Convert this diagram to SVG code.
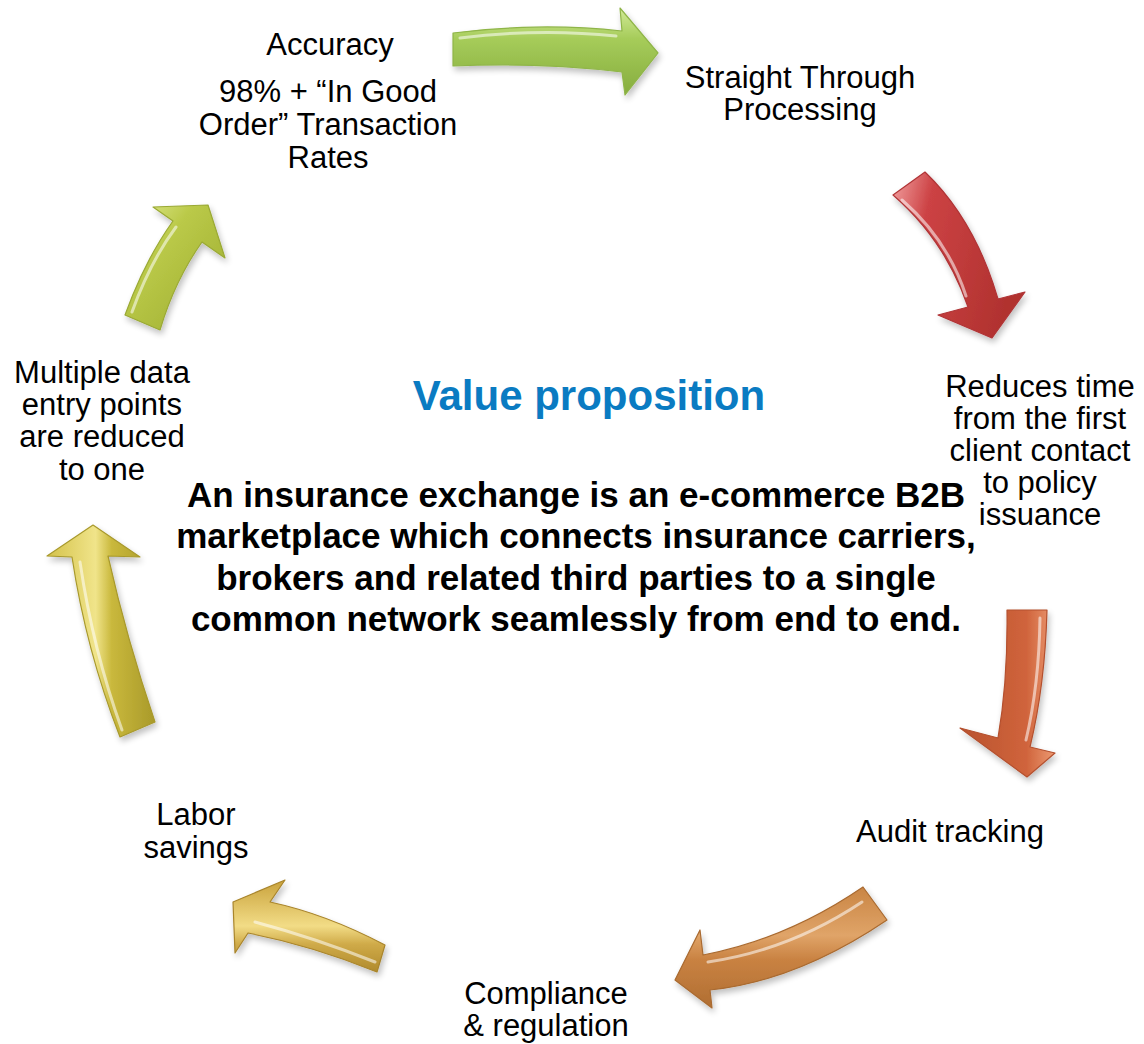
<svg xmlns="http://www.w3.org/2000/svg" width="1144" height="1044" viewBox="0 0 1144 1044">
<style>
.lbl{font-family:"Liberation Sans",Arial,sans-serif;font-size:31px;fill:#000;text-anchor:middle}
.title{font-family:"Liberation Sans",Arial,sans-serif;font-size:42px;font-weight:bold;fill:#0a7bc2;text-anchor:middle}
.body{font-family:"Liberation Sans",Arial,sans-serif;font-size:35px;font-weight:bold;fill:#000;text-anchor:middle}
.arrow{filter:url(#sh);stroke-width:1.2;stroke-linejoin:round}
.hl{fill:none;stroke:#fff;stroke-opacity:0.55;stroke-width:3;stroke-linecap:round}
</style>
<defs>
<filter id="sh" x="-20%" y="-20%" width="140%" height="140%">
<feGaussianBlur in="SourceAlpha" stdDeviation="3"/>
<feOffset dx="2" dy="4" result="b"/>
<feComponentTransfer><feFuncA type="linear" slope="0.25"/></feComponentTransfer>
<feMerge><feMergeNode/><feMergeNode in="SourceGraphic"/></feMerge>
</filter>
<linearGradient id="g1" x1="0" y1="0" x2="0" y2="1"><stop offset="0" stop-color="#d2ea98"/><stop offset="0.35" stop-color="#a6cc5a"/><stop offset="1" stop-color="#86ad3e"/></linearGradient>
<linearGradient id="g2" x1="0" y1="0" x2="1" y2="0.3"><stop offset="0" stop-color="#f2a0a0"/><stop offset="0.3" stop-color="#cc4244"/><stop offset="1" stop-color="#b1322f"/></linearGradient>
<linearGradient id="g3" x1="1" y1="0" x2="0" y2="0"><stop offset="0" stop-color="#ec9a72"/><stop offset="0.3" stop-color="#d0643c"/><stop offset="1" stop-color="#b9522e"/></linearGradient>
<linearGradient id="g4" x1="0" y1="0" x2="0" y2="1"><stop offset="0" stop-color="#c98544"/><stop offset="0.4" stop-color="#e0a468"/><stop offset="0.6" stop-color="#c98242"/><stop offset="1" stop-color="#b06e32"/></linearGradient>
<linearGradient id="g5" x1="0" y1="0" x2="0" y2="1"><stop offset="0" stop-color="#c9a23c"/><stop offset="0.5" stop-color="#f2dc86"/><stop offset="0.7" stop-color="#cfaa48"/><stop offset="1" stop-color="#b08a2c"/></linearGradient>
<linearGradient id="g6" x1="0" y1="0" x2="1" y2="0"><stop offset="0" stop-color="#d4c24a"/><stop offset="0.45" stop-color="#f0e48a"/><stop offset="0.6" stop-color="#c9b83c"/><stop offset="1" stop-color="#a99a2a"/></linearGradient>
<linearGradient id="g7" x1="0" y1="0" x2="1" y2="1"><stop offset="0" stop-color="#e2ec94"/><stop offset="0.35" stop-color="#bac948"/><stop offset="1" stop-color="#9cab30"/></linearGradient>
</defs>

<g id="connectors">
<g id="arrow1"><path class="arrow" fill="url(#g1)" stroke="#8fb548" d="M453,33 Q540,22 622,31 L620,8 L658,53 L625,95 L622,72 Q540,62 453,66 Z"/><path class="hl" d="M460,38 Q540,28 616,36"/></g>
<g id="arrow2"><path class="arrow" fill="url(#g2)" stroke="#b03436" d="M925,172 Q975,220 998,299 L1025,292 L992,338 L938,315 L968,307 Q945,240 893,195 Z"/><path class="hl" d="M902,200 Q948,240 966,296"/></g>
<g id="arrow3"><path class="arrow" fill="url(#g3)" stroke="#b4502e" d="M1007,610 L1047,610 Q1045,685 1030,747 L1055,753 L1027,777 L960,728 L998,738 Q1008,680 1007,610 Z"/><path class="hl" d="M1040,618 Q1039,685 1026,740"/></g>
<g id="arrow4"><path class="arrow" fill="url(#g4)" stroke="#a96a30" d="M863,887 L887,920 Q797,981 710,990 L712,1008 L675,980 L700,930 L703,955 Q787,939 863,887 Z"/><path class="hl" d="M708,962 Q790,950 862,902"/></g>
<g id="arrow5"><path class="arrow" fill="url(#g5)" stroke="#a9852c" d="M233,902 L285,880 L270,902 Q326,914 385,945 L377,972 Q313,946 248,933 L235,953 Z"/><path class="hl" d="M255,922 Q315,938 375,962"/></g>
<g id="arrow6"><path class="arrow" fill="url(#g6)" stroke="#a8992c" d="M93,525 L140,557 L108,556 Q127,640 155,722 L120,737 Q86,650 72,557 L47,556 Z"/><path class="hl" d="M80,562 Q93,650 122,730"/></g>
<g id="arrow7"><path class="arrow" fill="url(#g7)" stroke="#9aa934" d="M208,205 L225,258 L202,242 Q175,280 160,330 L125,315 Q145,260 173,221 L153,207 Z"/><path class="hl" d="M132,312 Q150,262 176,227"/></g>
</g>

<g id="accuracy"><text class="lbl" x="330" y="55">Accuracy</text>
<text class="lbl" x="328" y="102">98% + “In Good</text>
<text class="lbl" x="328" y="135">Order” Transaction</text>
<text class="lbl" x="328" y="168">Rates</text></g>
<g id="stp"><text class="lbl" x="800" y="88">Straight Through</text>
<text class="lbl" x="800" y="120">Processing</text></g>
<g id="reduces"><text class="lbl" x="1040" y="397">Reduces time</text>
<text class="lbl" x="1040" y="429">from the first</text>
<text class="lbl" x="1040" y="461">client contact</text>
<text class="lbl" x="1040" y="493">to policy</text>
<text class="lbl" x="1040" y="525">issuance</text></g>
<g id="audit"><text class="lbl" x="950" y="842">Audit tracking</text></g>
<g id="compliance"><text class="lbl" x="546" y="1004">Compliance</text>
<text class="lbl" x="546" y="1036">&amp; regulation</text></g>
<g id="labor"><text class="lbl" x="196" y="825">Labor</text>
<text class="lbl" x="196" y="858">savings</text></g>
<g id="multiple"><text class="lbl" x="102" y="383">Multiple data</text>
<text class="lbl" x="102" y="415">entry points</text>
<text class="lbl" x="102" y="447">are reduced</text>
<text class="lbl" x="102" y="480">to one</text></g>
<g id="center"><text class="title" x="589" y="410">Value proposition</text>
<text class="body" x="576" y="507">An insurance exchange is an e-commerce B2B</text>
<text class="body" x="576" y="548">marketplace which connects insurance carriers,</text>
<text class="body" x="576" y="590">brokers and related third parties to a single</text>
<text class="body" x="576" y="631">common network seamlessly from end to end.</text></g>
</svg>
